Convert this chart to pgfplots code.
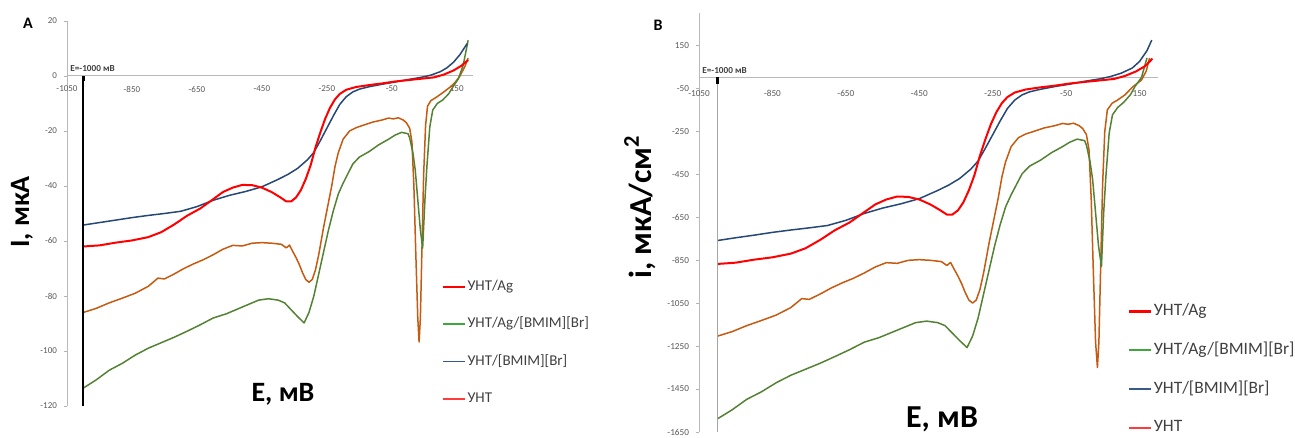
\documentclass[border=0pt]{standalone}
\usepackage{fontspec}
\setmainfont{Carlito}
\usepackage{pgfplots}
\usepackage{pgfplotstable}
\pgfplotsset{compat=1.18}

\definecolor{cRed}{RGB}{255,0,0}
\definecolor{cBlue}{RGB}{38,72,118}
\definecolor{cOrange}{RGB}{197,90,17}
\definecolor{cGreen}{RGB}{84,130,53}
\definecolor{lGreen}{RGB}{62,168,62}
\definecolor{lBlue}{RGB}{56,90,138}
\definecolor{lRed}{RGB}{255,60,60}
\definecolor{tickgray}{RGB}{89,89,89}
\definecolor{txtgray}{RGB}{64,64,64}

% panel A: E (mV), I (uA)
\pgfplotstableread{
E I
-1000 -54.2
-950 -53.3
-900 -52.4
-850 -51.5
-800 -50.7
-750 -50.0
-700 -49.2
-650 -47.5
-600 -45.2
-550 -43.4
-500 -42.0
-450 -40.3
-400 -37.6
-370 -35.8
-340 -33.6
-310 -30.5
-290 -27.8
-270 -23.5
-250 -19.0
-230 -14.5
-210 -10.3
-190 -7.5
-170 -5.8
-150 -4.8
-120 -3.9
-80 -3.0
-40 -2.2
0 -1.3
40 -0.5
70 0.3
100 1.6
120 3.0
140 5.0
160 7.8
182 11.8
}\blueA
\pgfplotstableread{
E I
-1000 -62.0
-950 -61.6
-900 -60.6
-850 -59.8
-800 -58.6
-760 -56.8
-720 -54.0
-680 -50.8
-640 -48.2
-600 -44.8
-570 -42.2
-540 -40.6
-510 -39.6
-480 -39.7
-450 -40.6
-420 -42.2
-395 -44.0
-375 -45.6
-360 -45.6
-345 -44.2
-330 -41.5
-315 -37.5
-300 -32.5
-285 -26.0
-270 -20.5
-255 -15.5
-240 -11.5
-225 -8.5
-210 -6.5
-190 -5.0
-160 -4.0
-120 -3.3
-80 -2.7
-40 -2.0
0 -1.5
40 -1.0
80 -0.5
110 0.5
140 2.0
165 3.8
185 5.8
}\redA
\pgfplotstableread{
E I
-1000 -86.0
-960 -84.5
-920 -82.5
-880 -80.8
-840 -79.0
-800 -76.5
-770 -73.5
-750 -73.8
-720 -72.0
-690 -70.0
-660 -68.3
-630 -66.8
-600 -65.0
-570 -63.0
-540 -61.6
-510 -61.8
-480 -60.8
-450 -60.6
-420 -60.8
-390 -61.2
-375 -62.5
-365 -61.5
-355 -63.8
-345 -66.0
-335 -68.5
-325 -71.5
-315 -74.0
-305 -75.0
-295 -74.0
-285 -70.5
-275 -65.0
-260 -55.0
-245 -46.0
-235 -40.0
-225 -33.0
-215 -28.0
-200 -23.0
-180 -20.0
-160 -18.8
-140 -18.0
-110 -16.8
-80 -16.0
-60 -15.3
-45 -15.6
-30 -15.2
-15 -16.0
-5 -17.0
5 -19.0
12 -24.0
18 -40.0
24 -65.0
30 -88.0
34 -96.7
38 -88.0
43 -62.0
48 -36.0
54 -18.0
60 -11.0
70 -9.0
90 -7.5
110 -5.8
130 -4.0
145 -2.3
160 0.0
175 3.5
185 6.5
}\orangeA
\pgfplotstableread{
E I
-1000 -113.5
-960 -110.5
-920 -107.0
-880 -104.5
-840 -101.5
-800 -99.0
-760 -97.0
-720 -95.0
-680 -92.8
-640 -90.5
-600 -88.0
-560 -86.5
-520 -84.5
-490 -83.0
-460 -81.5
-430 -81.0
-400 -81.5
-380 -82.5
-360 -85.0
-340 -87.5
-320 -89.8
-305 -86.0
-290 -80.0
-275 -72.0
-260 -64.0
-245 -56.0
-230 -49.0
-215 -43.0
-200 -39.0
-185 -35.5
-170 -32.0
-150 -29.5
-120 -27.5
-90 -25.0
-60 -23.0
-40 -21.5
-20 -20.5
0 -21.0
5 -22.5
15 -28.0
22 -34.0
30 -45.0
38 -56.0
45 -62.6
52 -45.0
58 -33.0
67 -18.5
76 -12.4
90 -10.0
107 -8.7
125 -6.5
138 -4.0
155 -1.0
170 4.0
185 13.0
}\greenA

% panel B: E (mV), i (uA/cm2)
\pgfplotstableread{
E I
-1000 -759
-950 -746
-900 -734
-850 -721
-800 -710
-750 -700
-700 -689
-650 -665
-600 -633
-550 -608
-500 -588
-450 -564
-400 -526
-370 -501
-340 -470
-310 -427
-290 -389
-270 -329
-250 -266
-230 -203
-210 -144
-190 -105
-170 -81
-150 -67
-120 -55
-80 -42
-40 -31
0 -18
40 -7
70 4
100 20
130 44
150 75
170 125
183 174
}\blueB
\pgfplotstableread{
E I
-1000 -868
-950 -862
-900 -848
-850 -837
-800 -820
-760 -795
-720 -756
-680 -711
-640 -675
-600 -627
-570 -591
-540 -568
-510 -554
-480 -556
-450 -568
-420 -591
-395 -616
-375 -638
-360 -638
-345 -619
-330 -581
-315 -525
-300 -455
-285 -364
-270 -287
-255 -217
-240 -161
-225 -119
-210 -91
-190 -70
-160 -56
-120 -46
-80 -38
-40 -28
0 -21
40 -14
80 -7
110 7
140 28
165 53
185 88
}\redB
\pgfplotstableread{
E I
-1000 -1204
-960 -1183
-920 -1155
-880 -1131
-840 -1106
-800 -1071
-770 -1029
-750 -1033
-720 -1008
-690 -980
-660 -956
-630 -935
-600 -910
-570 -882
-540 -862
-510 -865
-480 -851
-450 -848
-420 -851
-390 -857
-375 -875
-365 -861
-355 -893
-345 -924
-335 -959
-325 -1001
-315 -1036
-305 -1050
-295 -1036
-285 -987
-275 -910
-260 -770
-245 -644
-235 -560
-225 -462
-215 -392
-200 -322
-180 -280
-160 -263
-140 -252
-110 -235
-80 -224
-60 -214
-45 -218
-30 -213
-15 -224
-5 -238
5 -266
12 -336
18 -560
24 -910
30 -1232
35 -1350
39 -1232
44 -868
49 -504
55 -252
62 -151
75 -120
90 -105
110 -81
131 -44
155 -12
168 30
177 91
}\orangeB
\pgfplotstableread{
E I
-1000 -1589
-960 -1547
-920 -1498
-880 -1463
-840 -1421
-800 -1386
-760 -1358
-720 -1330
-680 -1299
-640 -1267
-600 -1232
-560 -1211
-520 -1183
-490 -1162
-460 -1141
-430 -1134
-400 -1141
-380 -1155
-360 -1190
-340 -1225
-320 -1257
-305 -1204
-290 -1120
-275 -1008
-260 -896
-245 -784
-230 -686
-215 -602
-200 -546
-185 -497
-170 -448
-150 -413
-120 -385
-90 -350
-60 -322
-40 -301
-20 -287
0 -294
5 -315
15 -392
22 -476
30 -630
38 -784
46 -880
52 -630
58 -462
67 -259
76 -174
90 -140
107 -115
125 -80
138 -40
155 0
170 91
}\greenB

\pgfplotsset{
  cvstyle/.style={
    scale only axis,
    axis x line=middle, axis y line=left,
    axis line style={-, gray!55, line width=0.5pt},
    hide obscured x ticks=false, hide obscured y ticks=false,
    xtick={-1050,-850,-650,-450,-250,-50,150},
    xticklabels={-1050,-850,-650,-450,-250,-50,150},
    xtick style={draw=none},
    ytick style={gray!60, line width=0.4pt},
    major tick length=1.5pt,
    tick align=outside,
    ticklabel style={text=tickgray},
    xmin=-1050, xmax=200,
    clip=false,
    legend cell align=left,
    legend style={draw=none, fill=none, text=txtgray, inner sep=0pt,
      nodes={inner sep=0.6pt, text height=5.5pt, text depth=1.5pt}},
    legend image code/.code={\draw[##1] (0pt,0pt) -- (11pt,0pt);},
  },
  curve/.style={line width=0.75pt, line join=round, forget plot},
}

\begin{document}
\begin{tikzpicture}
\useasboundingbox (0,0) rectangle (647.5pt,219pt);

% ---- panel A ----
\begin{axis}[cvstyle,
  at={(33.5pt,16pt)}, anchor=south west,
  width=203pt, height=192.5pt,
  ymin=-120, ymax=20,
  ytick={-120,-100,-80,-60,-40,-20,0,20},
  yticklabels={-120,-100,-80,-60,-40,-20,0,20},
  ticklabel style={font=\fontsize{4.5}{5}\selectfont},
  legend style={at={(0.9236,0.3325)}, anchor=north west,
    font=\fontsize{7.5}{8}\selectfont, row sep=10.5pt},
]
\addplot[curve, cOrange] table[x=E,y=I] {\orangeA};
\addplot[curve, cGreen] table[x=E,y=I] {\greenA};
\addplot[curve, cBlue] table[x=E,y=I] {\blueA};
\addplot[curve, cRed, line width=1pt] table[x=E,y=I] {\redA};
\addlegendimage{cRed, line width=1pt}
\addlegendentry{УНТ/Ag}
\addlegendimage{lGreen, line width=1pt}
\addlegendentry{УНТ/Ag/[BMIM][Br]}
\addlegendimage{lBlue, line width=0.8pt}
\addlegendentry{УНТ/[BMIM][Br]}
\addlegendimage{lRed, line width=0.8pt}
\addlegendentry{УНТ}
\draw[black, line width=0.75pt] (axis cs:-1000,0) -- (axis cs:-1000,-120);
\draw[black, line width=1.4pt] (axis cs:-1000,0) -- (axis cs:-1000,-2);
\end{axis}

% ---- panel B ----
\begin{axis}[cvstyle,
  at={(349.5pt,3pt)}, anchor=south west,
  width=229.5pt, height=209.5pt,
  ymin=-1650, ymax=300,
  ytick={-1650,-1450,-1250,-1050,-850,-650,-450,-250,-50,150},
  yticklabels={-1650,-1450,-1250,-1050,-850,-650,-450,-250,-50,150},
  ticklabel style={font=\fontsize{4.6}{5}\selectfont},
  xticklabel style={yshift=-1.5pt},
  legend style={at={(0.9346,0.3079)}, anchor=north west,
    font=\fontsize{8.7}{9}\selectfont, row sep=11.2pt},
]
\addplot[curve, cOrange] table[x=E,y=I] {\orangeB};
\addplot[curve, cGreen] table[x=E,y=I] {\greenB};
\addplot[curve, cBlue] table[x=E,y=I] {\blueB};
\addplot[curve, cRed, line width=1pt] table[x=E,y=I] {\redB};
\addlegendimage{cRed, line width=1.1pt}
\addlegendentry{УНТ/Ag}
\addlegendimage{lGreen, line width=1.1pt}
\addlegendentry{УНТ/Ag/[BMIM][Br]}
\addlegendimage{lBlue, line width=0.9pt}
\addlegendentry{УНТ/[BMIM][Br]}
\addlegendimage{lRed, line width=0.9pt}
\addlegendentry{УНТ}
\draw[gray!70, line width=0.6pt] (axis cs:-1000,0) -- (axis cs:-1000,-1650);
\draw[black, line width=1.4pt] (axis cs:-1000,0) -- (axis cs:-1000,-30);
\end{axis}

% panel letters, axis titles, marker labels
\node[font=\bfseries\fontsize{8}{9}\selectfont] at (14pt,207.5pt) {A};
\node[font=\bfseries\fontsize{8}{9}\selectfont] at (329pt,206.5pt) {B};
\node[font=\bfseries\fontsize{14}{16}\selectfont, rotate=90] at (11pt,113pt) {I, мкА};
\node[font=\bfseries\fontsize{14}{16}\selectfont] at (141.5pt,22pt) {E, мВ};
\node[font=\bfseries\fontsize{16}{18}\selectfont, rotate=90] at (320pt,115.5pt) {i, мкА/см\textsuperscript{2}};
\node[font=\bfseries\fontsize{16}{18}\selectfont] at (471pt,9.5pt) {E, мВ};
\node[font=\bfseries\fontsize{4.6}{5}\selectfont, anchor=west, inner sep=0pt, text=txtgray] at (35pt,184.5pt) {E=-1000 мВ};
\node[font=\bfseries\fontsize{4.6}{5}\selectfont, anchor=west, inner sep=0pt, text=txtgray] at (351pt,183.5pt) {E=-1000 мВ};
\end{tikzpicture}
\end{document}
